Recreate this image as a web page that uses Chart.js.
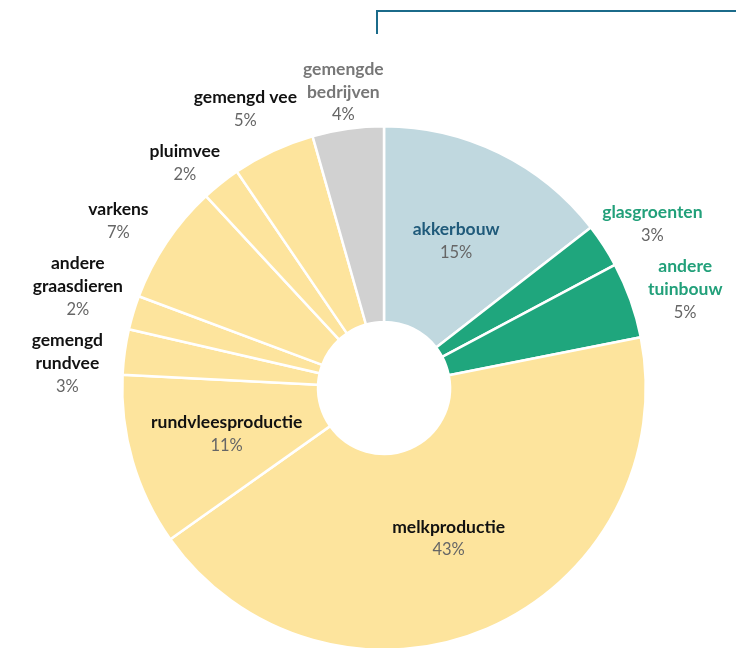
<!DOCTYPE html>
<html>
<head>
<meta charset="utf-8">
<script src="https://cdn.jsdelivr.net/npm/chart.js@4"></script>
<style>
    html, body { margin: 0; padding: 0; background: #fff; overflow: hidden; }
    .wrap { position: relative; width: 736px; height: 700px; }
    .frame {
        position: absolute; left: 376px; top: 10px; width: 360px; height: 22px;
        border-top: 2px solid #1b6b8a; border-left: 2px solid #1b6b8a;
    }
</style>
</head>
<body>
<div class="wrap">
    <canvas id="sectorChart" width="736" height="700"></canvas>
    <div class="frame"></div>
</div>
<script>
// Sectors, clockwise from the top
const sectors = [
    ['akkerbouw'], ['glasgroenten'], ['andere', 'tuinbouw'], ['melkproductie'],
    ['rundvleesproductie'], ['gemengd', 'rundvee'], ['andere', 'graasdieren'],
    ['varkens'], ['pluimvee'], ['gemengd vee'], ['gemengde', 'bedrijven']
];
const shares = [14.5, 2.7, 4.7, 43.3, 10.6, 2.8, 2.1, 7.4, 2.4, 5.1, 4.4];
const sliceColors = ['#c0d8df', '#1fa67d', '#1fa67d', '#fde49d', '#fde49d', '#fde49d',
    '#fde49d', '#fde49d', '#fde49d', '#fde49d', '#d1d1d1'];
const nameColors = ['#1f5a7a', '#22a07a', '#22a07a', '#111', '#111', '#111',
    '#111', '#111', '#111', '#111', '#777'];
const insideLabel = [true, false, false, true, true, false, false, false, false, false, false];

const LINE_H = 23;
const NAME_FONT = 'bold 17.5px Lato';
const PCT_FONT = '16.5px Lato';

const labelPlugin = {
    id: 'sliceLabels',
    afterDatasetsDraw(chart) {
        const ctx = chart.ctx;
        const arcs = chart.getDatasetMeta(0).data;
        const boxes = [];
        ctx.save();
        ctx.font = NAME_FONT;
        arcs.forEach(function(arc, i) {
            const p = arc.getProps(['x', 'y', 'startAngle', 'endAngle', 'innerRadius', 'outerRadius'], true);
            const mid = (p.startAngle + p.endAngle) / 2;
            let x, y;
            if (insideLabel[i]) {
                const r = (p.innerRadius + p.outerRadius) / 2;
                x = p.x + Math.cos(mid) * r;
                y = p.y + Math.sin(mid) * r;
            } else {
                x = p.x + Math.cos(mid) * (p.outerRadius + 58);
                y = p.y + Math.sin(mid) * (p.outerRadius + 37);
            }
            const halfW = Math.max.apply(null, sectors[i].map(function(t) { return ctx.measureText(t).width; })) / 2;
            const half = (sectors[i].length + 1) * LINE_H / 2;
            boxes.push({ i: i, x: x, y: y, half: half, halfW: halfW, outside: !insideLabel[i] });
        });

        // push overlapping outside labels apart, along the shorter direction
        const outside = boxes.filter(function(b) { return b.outside; });
        for (let pass = 0; pass < 20; pass++) {
            outside.sort(function(a, b) { return a.y - b.y; });
            for (let k = 0; k < outside.length; k++) {
                for (let m = k + 1; m < outside.length; m++) {
                    const a = outside[k], b = outside[m];
                    const needX = a.halfW + b.halfW + 6 - Math.abs(a.x - b.x);
                    const needY = a.half + b.half + 8 - (b.y - a.y);
                    if (needX <= 0 || needY <= 0) continue;
                    if (needX < needY) {
                        const s = a.x < b.x ? 1 : -1;
                        a.x -= s * needX / 2;
                        b.x += s * needX / 2;
                    } else {
                        a.y -= needY / 2;
                        b.y += needY / 2;
                    }
                }
            }
        }

        ctx.textAlign = 'center';
        ctx.textBaseline = 'middle';
        boxes.forEach(function(b) {
            const lines = sectors[b.i];
            const top = b.y - lines.length * LINE_H / 2;
            ctx.font = NAME_FONT;
            ctx.fillStyle = nameColors[b.i];
            lines.forEach(function(t, k) {
                ctx.fillText(t, b.x, top + k * LINE_H);
            });
            ctx.font = PCT_FONT;
            ctx.fillStyle = '#666';
            ctx.fillText(Math.round(shares[b.i]) + '%', b.x, top + lines.length * LINE_H);
        });
        ctx.restore();
    }
};

new Chart(document.getElementById('sectorChart').getContext('2d'), {
    type: 'doughnut',
    data: {
        labels: sectors.map(function(s) { return s.join(' '); }),
        datasets: [{
            data: shares,
            backgroundColor: sliceColors,
            borderColor: '#fff',
            borderWidth: 2.5
        }]
    },
    options: {
        responsive: false,
        animation: false,
        cutout: 66,
        layout: { padding: { left: 121, right: 89, top: 125, bottom: 49 } },
        plugins: {
            legend: { display: false },
            tooltip: { enabled: false }
        }
    },
    plugins: [labelPlugin]
});
</script>
</body>
</html>
